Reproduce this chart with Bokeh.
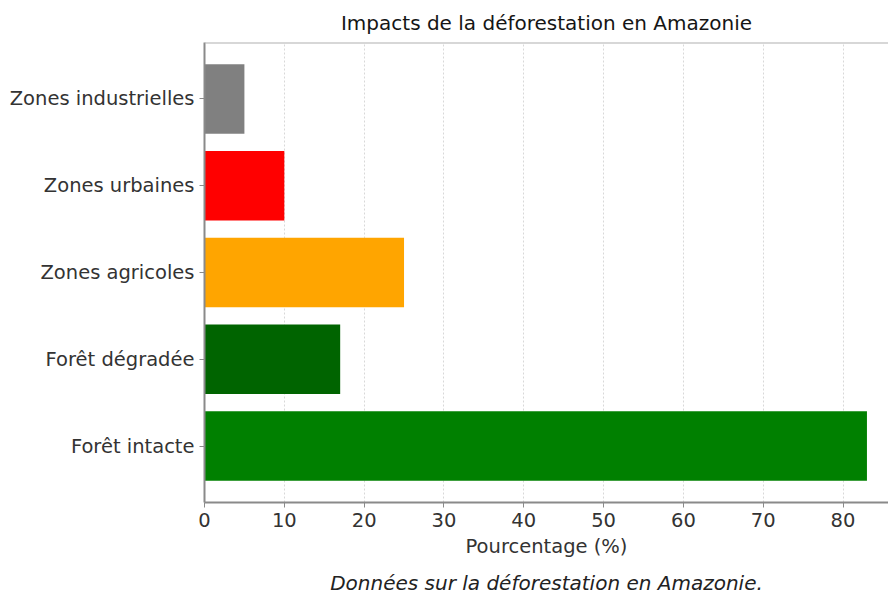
from bokeh.plotting import figure
from bokeh.models import ColumnDataSource, FixedTicker, Title, Range1d, Span
from bokeh.embed import file_html
from bokeh.resources import INLINE

# Land-use categories, bottom to top
categories = ["Forêt intacte", "Forêt dégradée", "Zones agricoles", "Zones urbaines", "Zones industrielles"]
percentages = [83, 17, 25, 10, 5]
colors = ["#008000", "#006400", "#ffa500", "#ff0000", "#808080"]
x_ticks = [0, 10, 20, 30, 40, 50, 60, 70, 80]

FONT = "DejaVu Sans"
TEXT = "#333333"
AXIS = "#8a8a8a"

positions = list(range(len(categories)))
source = ColumnDataSource(dict(y=positions, value=percentages, color=colors, label=categories))

y_start, y_end = -0.65, 4.65
p = figure(
    width=888, height=603,
    output_backend="svg", toolbar_location=None,
    x_range=Range1d(0, 85.7), y_range=Range1d(y_start, y_end),
    min_border_left=204, min_border_right=0, min_border_top=41, min_border_bottom=100,
)

p.hbar(y="y", left=0, right="value", height=0.8, fill_color="color", line_color=None, source=source)

# Title
p.title.text = "Impacts de la déforestation en Amazonie"
p.title.align = "center"
p.title.text_font = FONT
p.title.text_font_size = "20px"
p.title.text_font_style = "normal"
p.title.text_color = "#151515"
p.title.standoff = 16

# Caption below the axis
caption = Title(text="Données sur la déforestation en Amazonie.", align="center",
                text_font=FONT, text_font_size="20px", text_font_style="italic",
                text_color="#222222", standoff=17)
p.add_layout(caption, "below")

# Axes
p.xaxis.ticker = FixedTicker(ticks=x_ticks)
p.xaxis.axis_label = "Pourcentage (%)"
p.yaxis.ticker = FixedTicker(ticks=positions)
p.yaxis.major_label_overrides = {i: c for i, c in zip(positions, categories)}

for ax in (p.xaxis, p.yaxis):
    ax.axis_line_color = AXIS
    ax.axis_line_width = 2
    ax.major_tick_line_color = AXIS
    ax.major_tick_in = 0
    ax.major_tick_out = 5
    ax.minor_tick_line_color = None
    ax.major_label_text_font = FONT
    ax.major_label_text_font_size = "19.5px"
    ax.major_label_text_color = TEXT
    ax.axis_label_text_font = FONT
    ax.axis_label_text_font_size = "19.5px"
    ax.axis_label_text_font_style = "normal"
    ax.axis_label_text_color = TEXT

# Grid
p.xgrid.grid_line_color = "#d8d8d8"
p.xgrid.grid_line_dash = "2 2"
p.ygrid.grid_line_color = None

# Top frame edge only (no right edge)
p.outline_line_color = None
p.add_layout(Span(location=y_end, dimension="width", line_color="#b0b0b0", line_width=2))

p.background_fill_color = "white"
p.border_fill_color = "white"

open("out.html", "w").write(file_html(p, INLINE))
